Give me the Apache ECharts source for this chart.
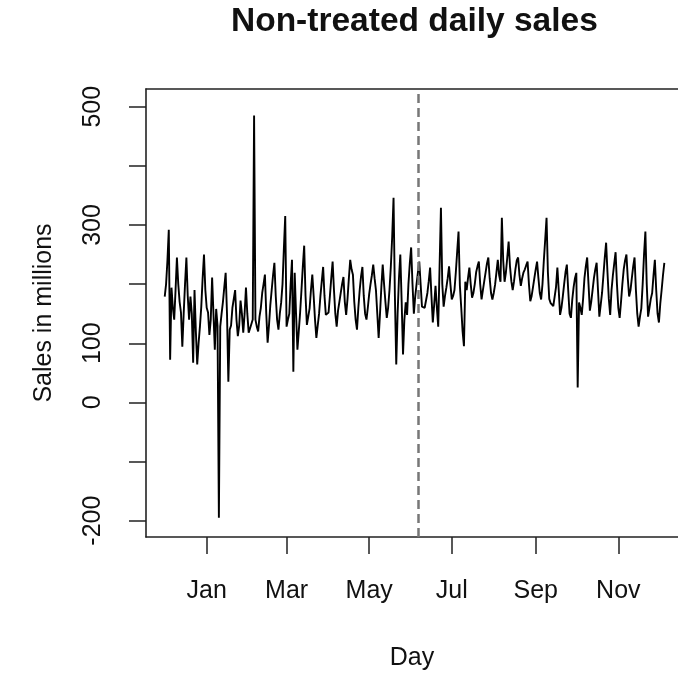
<!DOCTYPE html>
<html>
<head>
<meta charset="utf-8">
<script src="https://cdn.jsdelivr.net/npm/echarts@6/dist/echarts.min.js"></script>
<style>
html,body{margin:0;padding:0;background:#fff;}
#chart{width:678px;height:676px;}
</style>
</head>
<body>
<div id="chart"></div>
<script>
// ---- data ----
var startDate = '2012-12-01';           // first day of the series
var sales = [
179,200,240,292,72,194,160,140,190,245,200,170,152,94,150,200,245,180,140,179,150,67,
190,120,64,100,128,162,210,250,190,160,152,114,140,211,150,89,158,130,-195,128,150,170,
195,219,150,35,123,130,160,175,190,140,112,130,172,150,118,150,194,150,118,125,128,140,
485,140,128,120,145,160,185,200,216,150,101,130,165,190,215,236,180,140,123,150,169,200,
260,315,128,140,150,200,241,52,219,150,89,120,152,190,230,265,180,131,145,159,190,216,
180,140,109,130,150,180,205,229,180,148,150,152,180,210,238,190,150,128,155,170,185,200,
212,170,148,175,210,241,225,216,170,140,123,160,190,213,229,180,150,140,160,183,200,215,
233,210,190,150,109,150,195,233,200,170,143,160,190,230,280,346,180,64,150,210,250,170,
81,140,169,148,200,235,262,200,150,179,200,220,238,200,162,165,160,159,185,205,228,180,
135,165,197,160,128,230,329,200,162,180,194,210,230,200,174,180,190,220,255,289,197,160,
120,95,204,190,210,228,200,177,185,200,220,230,238,200,174,190,205,220,235,245,210,185,
174,185,199,220,241,215,204,312,240,204,220,245,272,230,205,190,205,225,240,245,215,197,
210,220,225,232,238,200,171,180,195,210,225,238,210,185,174,200,240,275,312,220,175,168,
165,163,162,195,228,190,148,160,179,200,220,233,190,150,143,174,195,210,219,25,169,160,
148,175,210,230,245,200,155,170,190,210,225,236,190,145,165,185,215,245,270,220,175,148,
190,215,235,254,200,160,143,170,200,225,240,250,210,179,190,210,230,245,190,150,128,145,
159,200,250,289,200,145,160,175,185,215,241,190,150,135,167,190,215,236
];
var monthTicks = ['2013-01-01','2013-03-01','2013-05-01','2013-07-01','2013-09-01','2013-11-01'];
var monthLabels = ['Jan','Mar','May','Jul','Sep','Nov'];
var yTicks = [-200,-100,0,100,200,300,400,500];
var yLabels = [-200,0,100,300,500];
var treatmentDate = '2013-06-06';

// ---- build: x is measured in days since 1 Jan 2013 ----
var DAY = 864e5;
function dayNum(s){ var p = s.split('-'); return Math.round((Date.UTC(+p[0], +p[1]-1, +p[2]) - Date.UTC(2013,0,1)) / DAY); }
var d0 = dayNum(startDate);
var seriesData = sales.map(function(v, i){ return [d0 + i, v]; });
var tickDays = monthTicks.map(dayNum);

var FONT = '"Liberation Sans", Arial, Helvetica, sans-serif';
var X_MIN = -44.83, X_MAX = 348.09;
var frameLine = {show: true, onZero: false, lineStyle: {color: '#222', width: 1.6}};
var chart = echarts.init(document.getElementById('chart'), null, {renderer:'canvas'});
chart.setOption({
  animation: false,
  backgroundColor: '#fff',
  title: {
    text: 'Non-treated daily sales',
    left: 231, top: 5, padding: 0,
    textStyle: {fontFamily: FONT, fontSize: 33.5, fontWeight: 'bold', color: '#111'}
  },
  grid: {
    left: 146, top: 89, right: 0, bottom: 139, show: false
  },
  xAxis: [{
    type: 'value', position: 'bottom',
    min: X_MIN, max: X_MAX,
    name: 'Day', nameLocation: 'middle', nameGap: 109,
    nameTextStyle: {fontFamily: FONT, fontSize: 25, color: '#111'},
    axisLine: frameLine,
    splitLine: {show: false},
    axisTick: {show: true, inside: false, length: 17, customValues: tickDays,
      lineStyle: {color: '#222', width: 1.5}},
    axisLabel: {show: true, customValues: tickDays, margin: 42, hideOverlap: false,
      fontFamily: FONT, fontSize: 25, color: '#111',
      formatter: function(v){ var k = tickDays.indexOf(Math.round(v)); return k >= 0 ? monthLabels[k] : ''; }}
  }, {
    type: 'value', position: 'top',
    min: X_MIN, max: X_MAX,
    axisLine: frameLine,
    axisTick: {show: false}, axisLabel: {show: false}, splitLine: {show: false}
  }],
  yAxis: {
    type: 'value',
    min: -227.6, max: 529.9,
    name: 'Sales in millions', nameLocation: 'middle', nameGap: 89,
    nameTextStyle: {fontFamily: FONT, fontSize: 25, color: '#111'},
    axisLine: frameLine,
    splitLine: {show: false},
    axisTick: {show: true, length: 17, customValues: yTicks,
      lineStyle: {color: '#222', width: 1.5}},
    axisLabel: {show: true, customValues: yLabels, rotate: 90, margin: 40, hideOverlap: false,
      fontFamily: FONT, fontSize: 25, color: '#111'}
  },
  series: [{
    type: 'line',
    xAxisIndex: 0,
    data: seriesData,
    showSymbol: false,
    symbol: 'none',
    lineStyle: {color: '#000', width: 1.9},
    itemStyle: {color: '#000'},
    markLine: {
      silent: true, symbol: 'none', animation: false,
      label: {show: false},
      lineStyle: {color: '#777', width: 2.5, type: [9, 5]},
      data: [{xAxis: dayNum(treatmentDate)}]
    }
  }]
});
</script>
</body>
</html>
